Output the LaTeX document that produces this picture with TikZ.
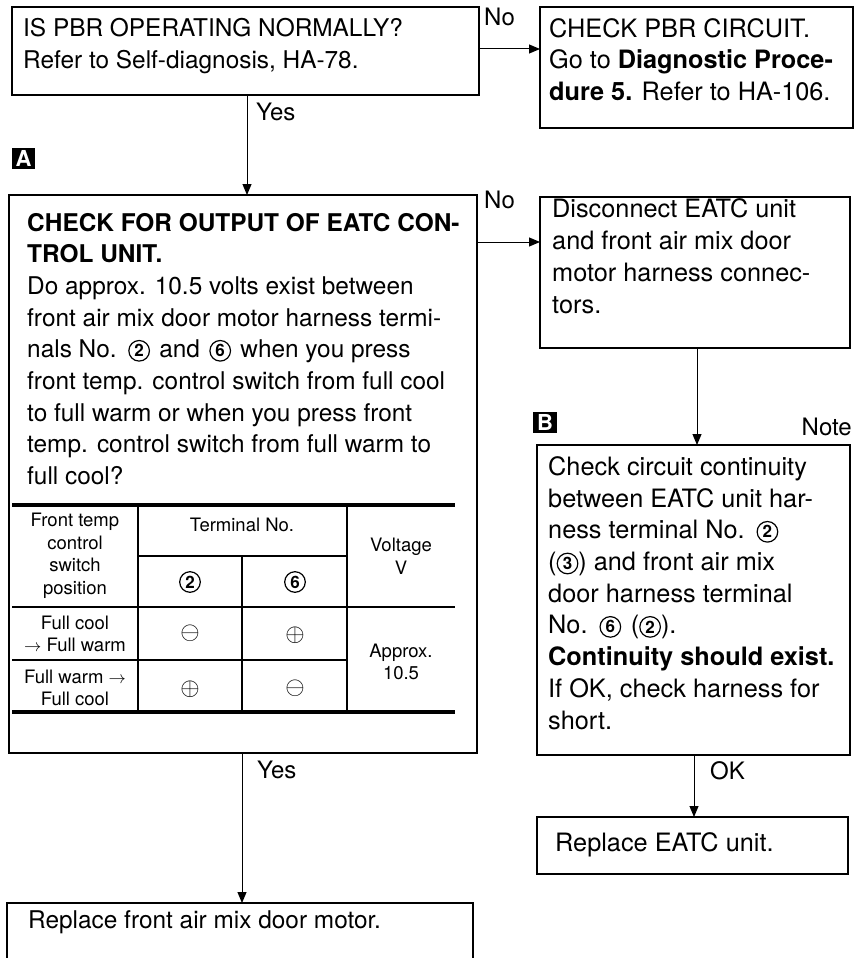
\documentclass[tikz,border=0pt]{standalone}
\usepackage{fontspec}
\setmainfont{TeX Gyre Heros}
\usetikzlibrary{arrows.meta}
\newcommand\cnumt[1]{\tikz[baseline={(0pt,-7pt)}]{\draw[line width=1.2pt] (0pt,0pt) circle[radius=10.3pt]; \node[anchor=center,align=center,inner sep=0pt,outer sep=0pt,font=\fontsize{17}{17}\selectfont\bfseries] at (0pt,0pt) {#1};}}
\newcommand\cnum[1]{\hspace{2.5pt}\cnumt{#1}\hspace{2.5pt}}
\newcommand\bigop[1]{{\fontsize{24}{24}\selectfont$#1$}}
\begin{document}
\begin{tikzpicture}[x=1pt,y=-1pt,
  box/.style={draw,line width=1.3pt,inner sep=0pt,outer sep=0pt,anchor=north west},
  txtL/.style={anchor=base west,inner sep=0pt,align=left,font=\fontsize{24.4}{31.7}\selectfont},
  txtR/.style={anchor=base west,inner sep=0pt,align=left,font=\fontsize{25.3}{31.7}\selectfont},
  lab/.style={anchor=west,inner sep=0pt,font=\fontsize{24}{24}\selectfont},
  arr/.style={line width=1pt,-{Triangle[width=9pt,length=11pt]}},
  tab/.style={align=center,inner sep=0pt,font=\fontsize{18.5}{22.5}\selectfont},
  markertext/.style={text=white,inner sep=0pt,font=\fontsize{22}{22}\selectfont\bfseries},
  thick line/.style={line width=3.5pt},
  mid line/.style={line width=2pt},
  thin line/.style={line width=1.3pt}]
\clip (0,0) rectangle (858,958);
\fill[white] (0,0) rectangle (858,958);

% boxes
\node[box,minimum width=467pt,minimum height=88pt] (b1) at (12,7) {};
\node[box,minimum width=313pt,minimum height=121pt] (b2) at (540,7) {};
\node[box,minimum width=468pt,minimum height=558pt] (bA) at (9,195) {};
\node[box,minimum width=310pt,minimum height=151pt] (bD) at (540,197) {};
\node[box,minimum width=313pt,minimum height=310pt] (bB) at (537,445) {};
\node[box,minimum width=311pt,minimum height=57pt] (bR) at (537,817) {};
\node[box,minimum width=466pt,minimum height=80pt] (bM) at (7,903) {};

% texts (anchored at the baseline of their last line)
\node[txtL] (t1) at (23,68.7) {IS PBR OPERATING NORMALLY?\\Refer to Self-diagnosis, HA-78.};
\node[txtR] (t2) at (549,100.4) {CHECK PBR CIRCUIT.\\Go to \textbf{Diagnostic Proce-}\\\textbf{dure 5.} Refer to HA-106.};
\node[txtL] (tA) at (27,484.6) {\textbf{CHECK FOR OUTPUT OF EATC CON-}\\\textbf{TROL UNIT.}\\Do approx. 10.5 volts exist between\\front air mix door motor harness termi-\\nals No. \cnum{2} and \cnum{6} when you press\\front temp. control switch from full cool\\to full warm or when you press front\\temp. control switch from full warm to\\full cool?};
\node[txtR] (tD) at (552,313) {Disconnect EATC unit\\and front air mix door\\motor harness connec-\\tors.};
\node[txtR] (tB) at (548,729) {Check circuit continuity\\between EATC unit har-\\ness terminal No. \cnum{2}\\(\cnumt{3}) and front air mix\\door harness terminal\\No. \cnum{6} (\cnumt{2}).\\\textbf{Continuity should exist.}\\If OK, check harness for\\short.};
\node[txtR] (tR) at (555,851) {Replace EATC unit.};
\node[txtL] (tM) at (28,928) {Replace front air mix door motor.};

% markers
\fill (12,148) rectangle (35,169);
\node[markertext] (mA) at (23.5,158.5) {A};
\fill (533,412) rectangle (557,433);
\node[markertext] (mB) at (545,422.5) {B};
\node[lab,anchor=east] (note) at (852,427) {Note};

% table
\draw[thick line] (12,505) -- (455,505);
\draw[mid line] (12,607) -- (455,607);
\draw[thin line] (12,660) -- (347,660);
\draw[thick line] (12,712) -- (455,712);
\draw[thin line] (138,556) -- (347,556);
\draw[thin line] (138,505) -- (138,712);
\draw[thin line] (242,556) -- (242,712);
\draw[thin line] (347,505) -- (347,712);
\node[tab] (h1) at (75,556) {Front temp\\control\\switch\\position};
\node[tab] (h2) at (242,525) {Terminal No.};
\node[tab] (h3) at (401,556) {Voltage\\V};
\node[tab] (h4) at (190,582) {\cnumt{2}};
\node[tab] (h5) at (295,582) {\cnumt{6}};
\node[tab] (r1) at (75,634) {Full cool\\$\rightarrow$ Full warm};
\node[tab] (r2) at (75,688) {Full warm $\rightarrow$\\Full cool};
\node[tab] (c11) at (190,633) {\bigop{\ominus}};
\node[tab] (c12) at (295,635) {\bigop{\oplus}};
\node[tab] (c21) at (190,689) {\bigop{\oplus}};
\node[tab] (c22) at (295,688) {\bigop{\ominus}};
\node[tab] (vv) at (401,662) {Approx.\\10.5};

% connectors
\coordinate (x1) at (247,0);
\coordinate (x2) at (697,0);
\coordinate (x3) at (694,0);
\coordinate (x4) at (242,0);
\coordinate (y1) at (0,49);
\coordinate (y2) at (0,242);
\draw[arr] (b1.south -| x1) -- (bA.north -| x1);
\draw[arr] (b1.east |- y1) -- (b2.west |- y1);
\draw[arr] (bA.east |- y2) -- (bD.west |- y2);
\draw[arr] (bD.south -| x2) -- (bB.north -| x2);
\draw[arr] (bB.south -| x3) -- (bR.north -| x3);
\draw[arr] (bA.south -| x4) -- (bM.north -| x4);

% labels
\node[lab] (yes1) at (256,112) {Yes};
\node[lab] (no1) at (484,17) {No};
\node[lab] (no2) at (484,200) {No};
\node[lab] (ok) at (710,771) {OK};
\node[lab] (yes2) at (257,770) {Yes};
\end{tikzpicture}
\end{document}
